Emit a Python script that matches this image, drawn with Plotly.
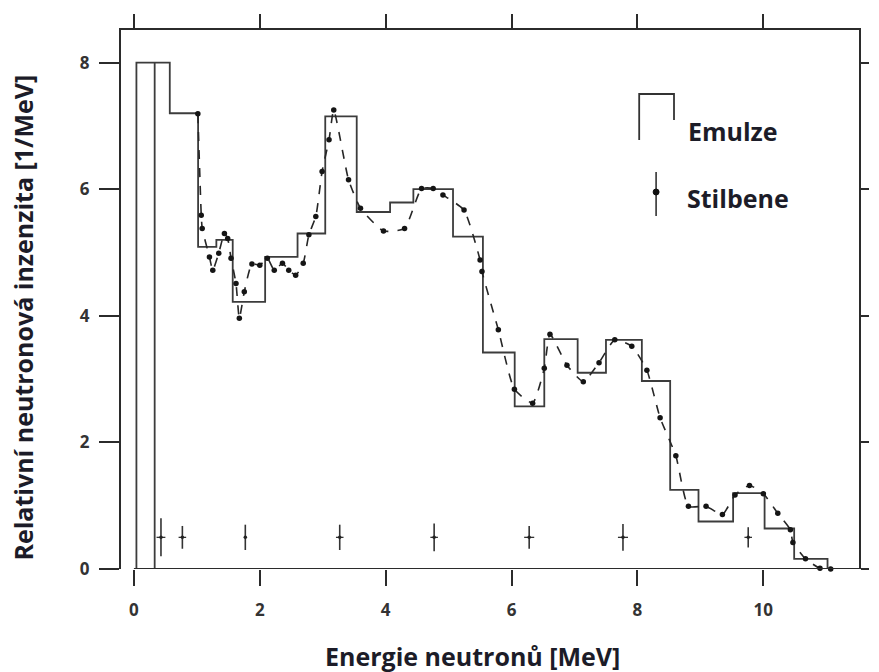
import plotly.graph_objects as go

# ---------------- data ----------------
# Emulze histogram: bin edges (MeV) and heights (1/MeV)
emul_edges = [0.04, 0.33, 0.33, 0.57, 1.02, 1.31, 1.57, 2.085, 2.60, 3.04, 3.54,
              4.07, 4.44, 5.07, 5.545, 6.05, 6.52, 7.05, 7.50, 8.07, 8.52, 8.97,
              9.52, 10.02, 10.49, 11.02]
emul_heights = [8.0, 0.0, 8.0, 7.2, 5.09, 5.2, 4.22, 4.93, 5.30, 7.15, 5.64,
                5.79, 6.0, 5.25, 3.42, 2.57, 3.63, 3.10, 3.62, 2.97, 1.25, 0.75,
                1.2, 0.64, 0.16]

# Stilbene spectrum points
stil_E = [1.016, 1.07, 1.085, 1.20, 1.253, 1.348, 1.438, 1.49, 1.543, 1.622, 1.675,
          1.754, 1.875, 2.00, 2.12, 2.23, 2.36, 2.46, 2.57, 2.69, 2.78, 2.89, 2.99,
          3.10, 3.175, 3.41, 3.60, 3.965, 4.30, 4.57, 4.755, 4.91, 5.245, 5.50, 5.53,
          5.79, 6.045, 6.335, 6.52, 6.61, 6.88, 7.14, 7.39, 7.64, 7.91, 8.15, 8.36,
          8.61, 8.81, 9.09, 9.35, 9.55, 9.78, 10.0, 10.23, 10.43, 10.47, 10.67,
          10.90, 11.07]
stil_I = [7.19, 5.59, 5.38, 4.93, 4.72, 4.99, 5.30, 5.22, 4.91, 4.51, 3.96,
          4.38, 4.82, 4.80, 4.91, 4.72, 4.83, 4.72, 4.64, 4.83, 5.28, 5.57, 6.28,
          6.78, 7.25, 6.15, 5.70, 5.34, 5.38, 6.01, 6.01, 5.91, 5.67, 4.88, 4.70,
          3.78, 2.84, 2.62, 3.17, 3.71, 3.22, 2.96, 3.26, 3.62, 3.52, 3.14, 2.39,
          1.79, 0.99, 0.99, 0.86, 1.17, 1.32, 1.19, 0.88, 0.62, 0.42, 0.16,
          0.01, 0.0]

# Representative error crosses
err_E = [0.43, 0.77, 1.77, 3.27, 4.77, 6.28, 7.77, 9.76]
err_I = [0.5, 0.5, 0.5, 0.5, 0.5, 0.5, 0.5, 0.5]
err_dI = [0.3, 0.18, 0.2, 0.2, 0.22, 0.18, 0.21, 0.16]
err_dE = [0.07, 0.06, 0.0, 0.06, 0.06, 0.08, 0.08, 0.06]

x_ticks = [0, 2, 4, 6, 8, 10]
y_ticks = [0, 2, 4, 6, 8]

x_title = "Energie neutronů [MeV]"
y_title = "Relativní neutronová inzenzita [1/MeV]"
legend_labels = ["Emulze", "Stilbene"]

# ---------------- build histogram outline ----------------
hx, hy = [emul_edges[0]], [0.0]
for i, h in enumerate(emul_heights):
    hx += [emul_edges[i], emul_edges[i + 1]]
    hy += [h, h]
hx.append(emul_edges[-1])
hy.append(0.0)

X_RANGE = [-0.205, 11.52]
Y_RANGE = [0, 8.515]

ink = "#2b2b2b"
fig = go.Figure()

fig.add_trace(go.Scatter(x=hx, y=hy, mode="lines",
                         line=dict(color="#3c3c3c", width=1.8),
                         hoverinfo="skip", showlegend=False))

fig.add_trace(go.Scatter(x=stil_E, y=stil_I, mode="lines+markers",
                         line=dict(color="#262626", width=1.6, dash="dash",
                                   shape="spline", smoothing=0.5),
                         marker=dict(color="#151515", size=5.5),
                         cliponaxis=False, showlegend=False))

fig.add_trace(go.Scatter(x=err_E, y=err_I, mode="markers",
                         marker=dict(color="#222", size=3.5),
                         error_y=dict(type="data", array=err_dI, color="#333",
                                      thickness=1.6, width=0),
                         error_x=dict(type="data", array=err_dE, color="#333",
                                      thickness=1.3, width=0),
                         showlegend=False))

# invisible trace so the frame axes (top / right) get drawn
fig.add_trace(go.Scatter(x=[X_RANGE[0]], y=[Y_RANGE[0]], xaxis="x2", yaxis="y2",
                         mode="markers", marker=dict(opacity=0),
                         hoverinfo="skip", showlegend=False))

# x-axis baseline from 0 to the right frame
fig.add_shape(type="line", xref="x", yref="y", x0=0, x1=X_RANGE[1], y0=0, y1=0,
              line=dict(color=ink, width=2))

# ---------------- manual legend ----------------
L, R, T, B = 121, 863, 30, 569


def px(x):
    return (x - L) / (R - L)


def py(y):
    return (B - y) / (B - T)


fig.add_shape(type="path", xref="paper", yref="paper",
              path=f"M {px(642)} {py(140)} L {px(642)} {py(94)} L {px(677)} {py(94)} L {px(677)} {py(120)}",
              line=dict(color="#333", width=1.8))
fig.add_shape(type="line", xref="paper", yref="paper",
              x0=px(659), x1=px(659), y0=py(172), y1=py(216),
              line=dict(color="#333", width=1.6))
fig.add_shape(type="circle", xref="paper", yref="paper",
              x0=px(656), x1=px(662), y0=py(189), y1=py(195),
              fillcolor="#111", line=dict(color="#111", width=1))

label_font = dict(family="Open Sans", size=25, color="#1c1c28", weight="bold")
fig.add_annotation(text=legend_labels[0], xref="paper", yref="paper",
                   x=px(689), y=py(131), xanchor="left", yanchor="middle",
                   showarrow=False, font=label_font)
fig.add_annotation(text=legend_labels[1], xref="paper", yref="paper",
                   x=px(688), y=py(198), xanchor="left", yanchor="middle",
                   showarrow=False, font=label_font)

# axis titles
fig.add_annotation(text=x_title, xref="paper", yref="paper",
                   x=px(474), y=py(656), xanchor="center", yanchor="middle",
                   showarrow=False,
                   font=dict(family="Open Sans", size=25, color="#1c1c28", weight="bold"))
fig.add_annotation(text=y_title, xref="paper", yref="paper",
                   x=px(22), y=py(318), xanchor="center", yanchor="middle",
                   textangle=-90, showarrow=False,
                   font=dict(family="Open Sans", size=25, color="#1c1c28", weight="bold"))

tick_font = dict(family="Open Sans", size=17, color="#333", weight="bold")
fig.update_layout(
    width=879, height=672,
    margin=dict(l=L, r=879 - R, t=T, b=672 - B),
    paper_bgcolor="white", plot_bgcolor="white",
    xaxis=dict(range=X_RANGE, tickvals=x_ticks, ticktext=[str(v) for v in x_ticks],
               showgrid=False, zeroline=False, showline=False,
               ticks="outside", ticklen=16, tickwidth=2, tickcolor=ink,
               ticklabelstandoff=10, tickfont=tick_font),
    xaxis2=dict(range=X_RANGE, overlaying="x", side="top", anchor="y",
                tickvals=x_ticks, showticklabels=False, showgrid=False, zeroline=False,
                showline=True, linecolor=ink, linewidth=2,
                ticks="outside", ticklen=14, tickwidth=2, tickcolor=ink),
    yaxis=dict(range=Y_RANGE, tickvals=y_ticks, showgrid=False, zeroline=False,
               showline=True, linecolor=ink, linewidth=2,
               ticks="outside", ticklen=20, tickwidth=2, tickcolor=ink,
               ticklabelstandoff=6, tickfont=tick_font),
    yaxis2=dict(range=Y_RANGE, overlaying="y", side="right", anchor="x",
                tickvals=y_ticks, showticklabels=False, showgrid=False, zeroline=False,
                showline=True, linecolor=ink, linewidth=2,
                ticks="outside", ticklen=8, tickwidth=2, tickcolor=ink),
)

fig.write_html("out.html")
